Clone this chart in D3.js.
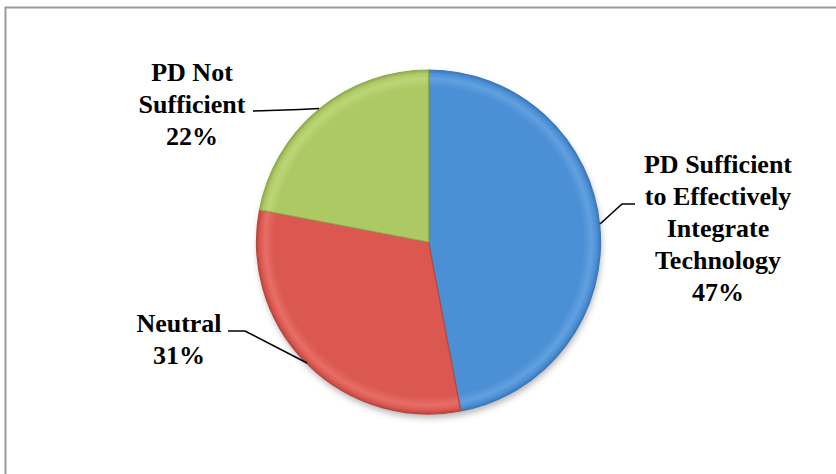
<!DOCTYPE html>
<html>
<head>
<meta charset="utf-8">
<script src="https://cdn.jsdelivr.net/npm/d3@7"></script>
<style>
  html, body { margin: 0; padding: 0; background: #fff; }
  svg { display: block; }
  .label { font-family: "Liberation Serif", "Times New Roman", Times, serif; font-weight: bold; }
</style>
</head>
<body>
<svg id="chart" width="836" height="474"></svg>
<script>
// Survey responses on professional development (PD)
const categories = ["PD Sufficient to Effectively Integrate Technology", "Neutral", "PD Not Sufficient"];
const values = [47, 31, 22];
const labelLines = [
  ["PD Sufficient", "to Effectively", "Integrate", "Technology", "47%"],
  ["Neutral", "31%"],
  ["PD Not", "Sufficient", "22%"]
];
const baseColors = ["#4b8fd5", "#db5850", "#adc964"];
const rimLight = ["#62a0e0", "#e66e66", "#bcd677"];
const rimDark = ["#3d77bb", "#b9463e", "#8eaa4c"];

const W = 836, H = 474;
const cx = 428.5, cy = 242, R = 172;

const svg = d3.select("#chart");
const defs = svg.append("defs");

// chart frame (runs off the right and bottom edges)
svg.append("rect")
  .attr("x", 5.5).attr("y", 7.5)
  .attr("width", W + 10).attr("height", H + 10)
  .attr("fill", "#fff").attr("stroke", "#9a9a9a").attr("stroke-width", 2);

// soft shadow under the pie
const shadow = defs.append("filter").attr("id", "shadow")
  .attr("x", "-20%").attr("y", "-20%").attr("width", "140%").attr("height", "140%");
shadow.append("feGaussianBlur").attr("stdDeviation", 3);

// bevelled fill for each slice (gradient lives in the pie group's coordinates)
values.forEach((v, i) => {
  const gr = defs.append("radialGradient").attr("id", "grad" + i)
    .attr("gradientUnits", "userSpaceOnUse")
    .attr("cx", 0).attr("cy", 0).attr("r", R);
  gr.append("stop").attr("offset", "0").attr("stop-color", baseColors[i]);
  gr.append("stop").attr("offset", "0.9").attr("stop-color", baseColors[i]);
  gr.append("stop").attr("offset", "0.95").attr("stop-color", rimLight[i]);
  gr.append("stop").attr("offset", "0.98").attr("stop-color", baseColors[i]);
  gr.append("stop").attr("offset", "1").attr("stop-color", rimDark[i]);
});

const pie = d3.pie().sort(null).value(d => d)(values);
const arc = d3.arc().innerRadius(0).outerRadius(R);

const g = svg.append("g").attr("transform", `translate(${cx},${cy})`);

g.append("circle")
  .attr("cx", 1).attr("cy", 4).attr("r", R)
  .attr("fill", "rgba(0,0,0,0.28)")
  .attr("filter", "url(#shadow)");

g.selectAll("path.slice")
  .data(pie)
  .join("path")
  .attr("class", "slice")
  .attr("d", arc)
  .attr("fill", (d, i) => `url(#grad${i})`)
  .attr("stroke", (d, i) => rimDark[i])
  .attr("stroke-width", 1.2)
  .attr("stroke-linejoin", "round");

// leader lines from slice rim to label
const leaders = [
  { anchor: [600, 224], elbow: [622, 204], end: [635, 204] },
  { anchor: [307, 363], elbow: [245, 331], end: [228, 331] },
  { anchor: [319, 108.5], elbow: [300, 109.5], end: [253, 111] }
];
const line = d3.line();
svg.selectAll("path.leader")
  .data(leaders)
  .join("path")
  .attr("class", "leader")
  .attr("d", d => line([d.anchor, d.elbow, d.end]))
  .attr("fill", "none")
  .attr("stroke", "#000")
  .attr("stroke-width", 1.6);

// labels
const labelPos = [
  { x: 718, y: 173 },
  { x: 179, y: 332 },
  { x: 192, y: 81 }
];
const lh = 32;
svg.selectAll("text.label")
  .data(labelLines)
  .join("text")
  .attr("class", "label")
  .attr("text-anchor", "middle")
  .attr("font-size", 26)
  .attr("fill", "#000")
  .each(function (lines, i) {
    d3.select(this).selectAll("tspan")
      .data(lines)
      .join("tspan")
      .attr("x", labelPos[i].x)
      .attr("y", (t, j) => labelPos[i].y + j * lh)
      .text(t => t);
  });
</script>
</body>
</html>
